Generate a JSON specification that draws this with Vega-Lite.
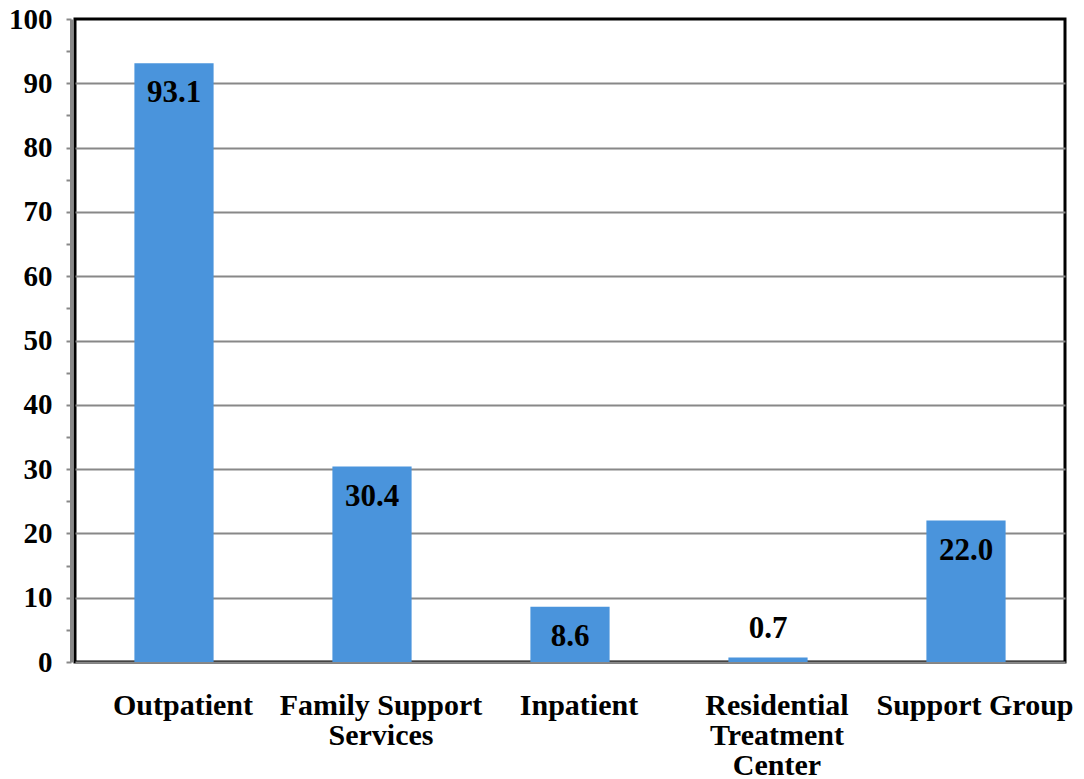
{
  "$schema": "https://vega.github.io/schema/vega-lite/v6.json",
  "width": 990,
  "height": 643,
  "autosize": {"type": "none"},
  "padding": {"left": 75, "top": 19, "right": 19, "bottom": 117},
  "background": "white",
  "config": {
    "view": {"stroke": "#000000", "strokeWidth": 3},
    "font": "Liberation Serif"
  },
  "data": {
    "values": [
      {"service": "Outpatient", "value": 93.1},
      {"service": "Family Support Services", "value": 30.4},
      {"service": "Inpatient", "value": 8.6},
      {"service": "Residential Treatment Center", "value": 0.7},
      {"service": "Support Group", "value": 22.0}
    ]
  },
  "encoding": {
    "x": {
      "field": "service",
      "type": "nominal",
      "sort": null,
      "scale": {"paddingInner": 0.6, "paddingOuter": 0.3},
      "axis": {
        "title": null,
        "labelAngle": 0,
        "ticks": false,
        "domainColor": "#888888",
        "domainWidth": 2,
        "labelFont": "Liberation Serif",
        "labelFontWeight": "bold",
        "labelFontSize": 30,
        "labelColor": "#000000",
        "labelPadding": 28,
        "labelOffset": 9,
        "labelLineHeight": 30,
        "labelBaseline": "top",
        "labelLimit": 300,
        "labelExpr": "datum.value == 'Residential Treatment Center' ? ['Residential','Treatment','Center'] : datum.value == 'Family Support Services' ? ['Family Support','Services'] : datum.value"
      }
    },
    "y": {
      "field": "value",
      "type": "quantitative",
      "scale": {"domain": [0, 100], "nice": false},
      "axis": {
        "title": null,
        "values": [0,5,10,15,20,25,30,35,40,45,50,55,60,65,70,75,80,85,90,95,100],
        "labelExpr": "datum.value % 10 == 0 ? datum.label : ''",
        "offset": 4,
        "domainColor": "#888888",
        "domainWidth": 3,
        "tickColor": "#888888",
        "tickWidth": 2,
        "tickSize": 5,
        "grid": true,
        "gridColor": "#888888",
        "gridWidth": 2,
        "gridOpacity": {"condition": {"test": "datum.value % 10 != 0 || datum.value == 0 || datum.value == 100", "value": 0}, "value": 1},
        "labelFont": "Liberation Serif",
        "labelFontWeight": "bold",
        "labelFontSize": 29,
        "labelColor": "#000000",
        "labelPadding": 14
      }
    }
  },
  "layer": [
    {"mark": {"type": "bar", "color": "#4a94dc"}},
    {
      "transform": [{"filter": "datum.value >= 5"}],
      "mark": {"type": "text", "baseline": "middle", "dy": 30, "font": "Liberation Serif", "fontWeight": "bold", "fontSize": 31, "color": "#000000"},
      "encoding": {"text": {"field": "value", "type": "quantitative", "format": ".1f"}}
    },
    {
      "transform": [{"filter": "datum.value < 5"}],
      "mark": {"type": "text", "baseline": "middle", "dy": -28, "font": "Liberation Serif", "fontWeight": "bold", "fontSize": 31, "color": "#000000"},
      "encoding": {"text": {"field": "value", "type": "quantitative", "format": ".1f"}}
    }
  ]
}
